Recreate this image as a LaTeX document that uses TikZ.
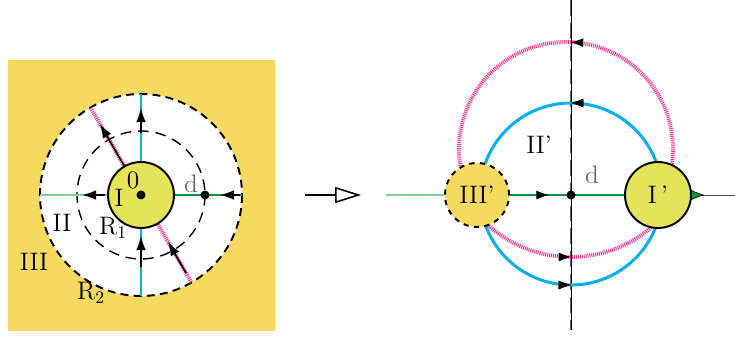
\documentclass[tikz,border=0pt]{standalone}
\usepackage{color}
\definecolor{myyellow}{RGB}{246,217,94}
\definecolor{mylime}{RGB}{228,228,90}
\definecolor{myblue}{RGB}{0,174,239}
\definecolor{mypink}{RGB}{233,50,140}
\definecolor{mylightgreen}{RGB}{130,210,160}
\definecolor{mygreen}{RGB}{0,150,70}
\usepackage{tikz}
\usetikzlibrary{calc,arrows.meta,decorations.markings,positioning}
\tikzstyle{disc}=[draw,line width=1.1pt,circle,minimum size=1.32cm,inner sep=0pt,font=\Large]
\tikzstyle{txt}=[font=\Large,inner sep=0pt]
\tikzstyle{hatch}=[mypink,line width=2.2pt,dash pattern=on 0.55pt off 0.55pt]
\tikzstyle{ray}=[line width=1.7pt]
\tikzstyle{blk}=[black,line width=0.9pt,-{Latex[length=8pt,width=5.5pt]}]
\tikzset{midarrow/.style={postaction={decorate},decoration={markings,
  mark=at position #1 with {\arrow[black,line width=0.4pt]{Latex[length=7pt,width=5pt]}}}}}

\begin{document}
\begin{tikzpicture}[x=0.02cm,y=-0.02cm]
\useasboundingbox (0,0) rectangle (735,340);
% left: the plane with the two dashed rings
\fill[myyellow] (8,60) rectangle (275,331);
\coordinate (o) at (141,195);
\fill[white] (o) circle (101);
\draw[line width=1.1pt,dash pattern=on 4.5pt off 3pt] (o) circle (101);
\draw[line width=0.8pt,dash pattern=on 6pt off 4pt] (o) circle (64);
\draw[myblue,ray] ($(o)+(-90:30)$) -- ($(o)+(-90:101)$);
\draw[myblue,ray] ($(o)+(90:30)$) -- ($(o)+(90:101)$);
\draw[mylightgreen,line width=0.9pt] ($(o)+(180:30)$) -- ($(o)+(180:101)$);
\draw[mygreen,line width=0.9pt] ($(o)+(0:30)$) -- ($(o)+(0:101)$);
\draw[hatch] ($(o)+(-120:30)$) -- ($(o)+(-120:101)$);
\draw[hatch] ($(o)+(60:30)$) -- ($(o)+(60:101)$);
\draw[blk] ($(o)+(-90:62)$) -- ($(o)+(-90:87)$);
\draw[blk] ($(o)+(90:72)$) -- ($(o)+(90:41)$);
\draw[blk] ($(o)+(180:36)$) -- ($(o)+(180:59)$);
\draw[blk] ($(o)+(0:99)$) -- ($(o)+(0:79)$);
\draw[blk] ($(o)+(-120:33)$) -- ($(o)+(-120:82)$);
\draw[blk] ($(o)+(60:90)$) -- ($(o)+(60:54)$);
\draw (o) node [disc,fill=mylime] (dI) {};
\fill (o) circle (4.5);
\fill ($(o)+(0:64)$) circle (4.5);
\draw (133,180) node [txt] (l0) {0};
\draw (119,198) node [txt] (lI) {I};
\draw (191,184) node [txt,black!60] (ld) {d};
\draw (113,228) node [txt] (lR1) {R$_1$};
\draw (62,223) node [txt] (lII) {II};
\draw (34,262) node [txt] (lIII) {III};
\draw (91,293) node [txt] (lR2) {R$_2$};
% the map
\coordinate (m1) at (305,195);
\coordinate (m2) at (361,195);
\draw[line width=0.9pt,-{Triangle[open,length=0.52cm,width=0.32cm]}] (m1) -- (m2);
% right: the image after inversion
\coordinate (c) at (571,195);
\coordinate (ax1) at (571,0);
\coordinate (ax2) at (571,330);
\draw[black!60,line width=1.4pt,dash pattern=on 9pt off 4pt] (ax1) -- (ax2);
\draw[line width=0.4pt] (ax1) -- (ax2);
\draw[myblue,line width=1.7pt,midarrow=0.25,midarrow=0.75]
  ($(c)+(0,-1)+(0:91)$) arc[start angle=0,end angle=-360,radius=91];
\draw[hatch,midarrow=0.487] ($(566,149)+(370:107)$) arc[start angle=370,end angle=170,radius=107];
\draw[hatch,midarrow=0.5] ($(571,133)+(135:124)$) arc[start angle=135,end angle=45,radius=124];
\draw (477,195) node [disc,fill=myyellow,dashed,minimum size=1.28cm] (dIII) {III'};
\draw (658,195) node [disc,fill=mylime] (dI2) {I\,'};
\coordinate (gl) at (386,195);
\coordinate (gr) at (735,195);
\draw[mylightgreen,line width=0.9pt] (gl) -- (dIII);
\draw[mygreen,line width=0.7pt,midarrow=0.34] (dIII) -- (dI2);
\draw[black!70,line width=0.5pt,postaction={decorate},decoration={markings,
  mark=at position 0.3 with {\arrow[black,line width=0.4pt]{Latex[length=8pt,width=6pt,fill=mygreen]}}}] (dI2) -- (gr);
\fill (c) circle (4.5);
\draw (539,145) node [txt] (lII2) {II'};
\draw (592,175) node [txt,black!60] (ld2) {d};
\end{tikzpicture}
\end{document}
